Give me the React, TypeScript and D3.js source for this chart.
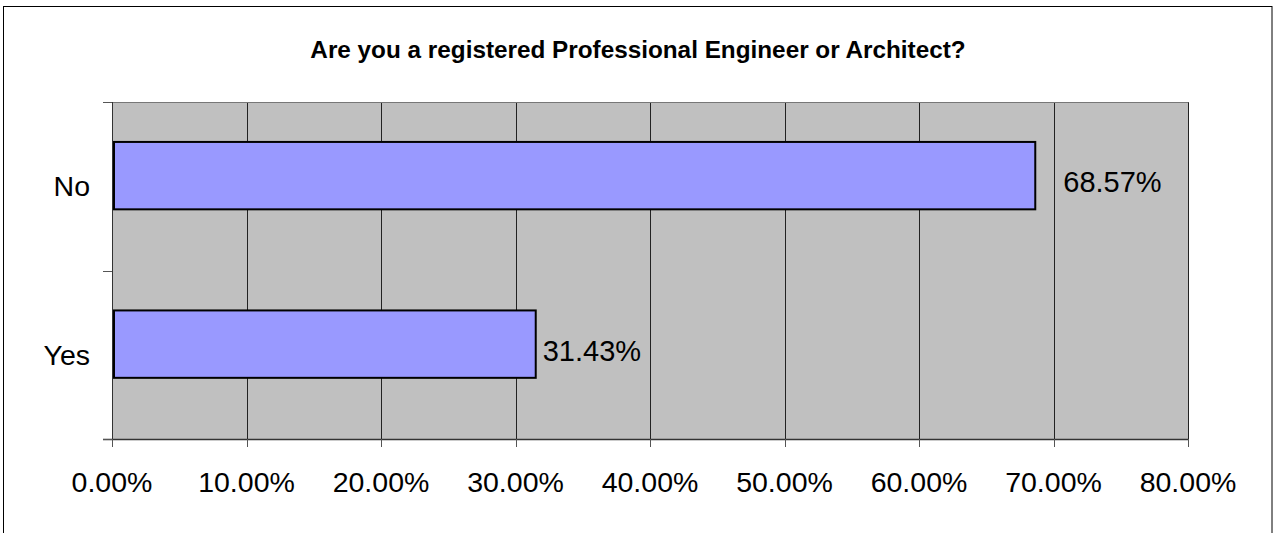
import * as d3 from "d3";

const categories = ["No", "Yes"];
const values = [68.57, 31.43];
const valueLabels = ["68.57%", "31.43%"];
const xTicks = [0, 10, 20, 30, 40, 50, 60, 70, 80];
const title = "Are you a registered Professional Engineer or Architect?";

const W = 1273;
const H = 533;
const plot = { left: 112, right: 1188, top: 102, bottom: 439 };
const font = "'Liberation Sans', Arial, sans-serif";
// gap between bar end and its value label, as placed in the original
const labelGap = [29, 8];

export default function App() {
  const x = d3.scaleLinear().domain([0, 80]).range([plot.left, plot.right]);
  const y = d3
    .scaleBand<string>()
    .domain(categories)
    .range([plot.top, plot.bottom])
    .padding(0);
  const step = y.step();
  const barH = step * 0.4;

  return (
    <svg
      width={W}
      height={H}
      style={{ position: "absolute", left: 0, top: 0, background: "#fff" }}
      fontFamily={font}
    >
      <rect x={3.5} y={6.5} width={1268.5} height={560} fill="#fff" stroke="#000" />
      <text x={638} y={58} textAnchor="middle" fontWeight="bold" fontSize={24.3}>
        {title}
      </text>

      <rect
        x={plot.left}
        y={plot.top}
        width={plot.right - plot.left}
        height={plot.bottom - plot.top}
        fill="#c0c0c0"
      />
      {xTicks.slice(1).map((t) => (
        <line
          key={t}
          x1={Math.round(x(t)) + 0.5}
          x2={Math.round(x(t)) + 0.5}
          y1={plot.top}
          y2={plot.bottom}
          stroke="#222"
        />
      ))}
      <line x1={plot.left} x2={plot.right + 0.5} y1={plot.top + 0.5} y2={plot.top + 0.5} stroke="#777" />

      {categories.map((c, i) => (
        <rect
          key={c}
          x={x(0) + 2}
          y={(y(c) as number) + step * 0.237}
          width={x(values[i]) - x(0) - 1}
          height={barH}
          fill="#9999ff"
          stroke="#000"
          strokeWidth={2}
        />
      ))}

      {/* axes */}
      <line x1={plot.left + 0.5} x2={plot.left + 0.5} y1={plot.top} y2={plot.bottom + 8} stroke="#333" />
      <line x1={plot.left - 9} x2={plot.right + 0.5} y1={plot.bottom + 0.5} y2={plot.bottom + 0.5} stroke="#333" strokeWidth={1.5} />
      {[plot.top, plot.top + step, plot.bottom].map((ty, i) => (
        <line key={i} x1={plot.left - 9} x2={plot.left} y1={Math.round(ty) + 0.5} y2={Math.round(ty) + 0.5} stroke="#555" />
      ))}
      {xTicks.map((t) => (
        <g key={t}>
          <line
            x1={Math.round(x(t)) + 0.5}
            x2={Math.round(x(t)) + 0.5}
            y1={plot.bottom}
            y2={plot.bottom + 8}
            stroke="#555"
          />
          <text x={x(t)} y={492} textAnchor="middle" fontSize={28.5}>
            {t.toFixed(2)}%
          </text>
        </g>
      ))}

      {categories.map((c) => (
        <text
          key={c}
          x={90}
          y={(y(c) as number) + step / 2 + 10}
          textAnchor="end"
          fontSize={28.5}
        >
          {c}
        </text>
      ))}

      {categories.map((c, i) => (
        <text
          key={c}
          x={x(values[i]) + labelGap[i]}
          y={(y(c) as number) + step / 2 + 6}
          fontSize={29}
        >
          {valueLabels[i]}
        </text>
      ))}
    </svg>
  );
}
